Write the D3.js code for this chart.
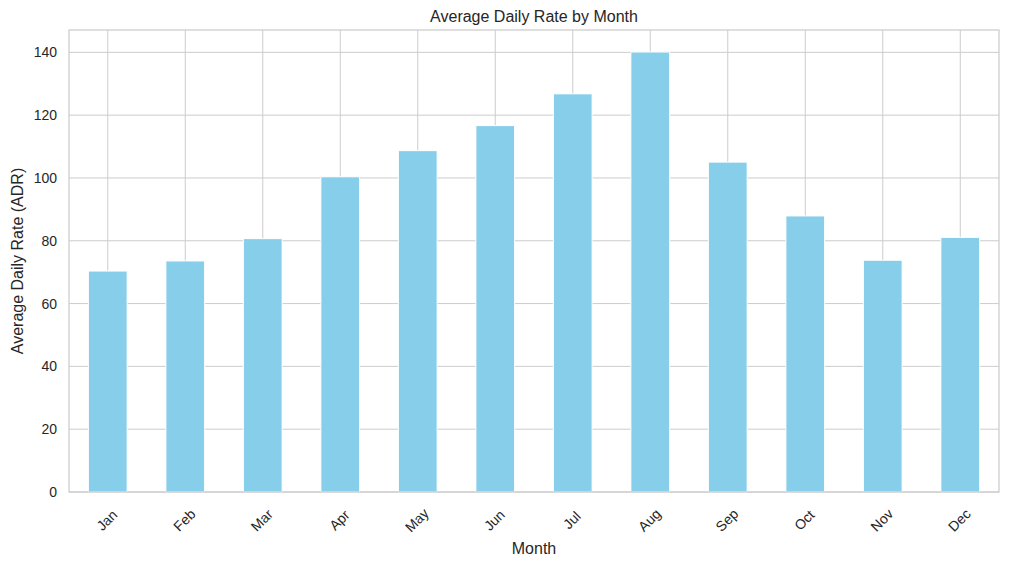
<!DOCTYPE html>
<html><head><meta charset="utf-8">
<script src="https://cdn.jsdelivr.net/npm/d3@7"></script>
<style>body{margin:0;background:#fff}text{font-family:"Liberation Sans",Arial,sans-serif;fill:#262626}</style>
</head><body><svg id="c" width="1009" height="566"></svg>
<script>
const months = ["Jan","Feb","Mar","Apr","May","Jun","Jul","Aug","Sep","Oct","Nov","Dec"];
const adr = [70.36, 73.58, 80.68, 100.38, 108.70, 116.67, 126.79, 140.11, 105.05, 87.91, 73.80, 81.08];
const yTicks = [0, 20, 40, 60, 80, 100, 120, 140];
const title = "Average Daily Rate by Month";
const xLabel = "Month";
const yLabel = "Average Daily Rate (ADR)";

const svg = d3.select("#c");
const L = 69, R = 999, T = 30, B = 492;
const x = d3.scaleBand().domain(months).range([L, R]).paddingInner(0.5).paddingOuter(0.25);
const y = d3.scaleLinear().domain([0, d3.max(adr) * 1.05]).range([B, T]);

const grid = svg.append("g");
grid.selectAll("line.h").data(yTicks).join("line")
  .attr("x1", L).attr("x2", R).attr("y1", d => y(d)).attr("y2", d => y(d))
  .attr("stroke", "#cccccc").attr("stroke-width", 1);
grid.selectAll("line.v").data(months).join("line")
  .attr("y1", T).attr("y2", B).attr("x1", d => x(d) + x.bandwidth() / 2).attr("x2", d => x(d) + x.bandwidth() / 2)
  .attr("stroke", "#cccccc").attr("stroke-width", 1);

svg.append("g").selectAll("rect").data(months).join("rect")
  .attr("x", d => x(d)).attr("width", x.bandwidth())
  .attr("y", (d, i) => y(adr[i])).attr("height", (d, i) => B - y(adr[i]))
  .attr("fill", "#87ceeb").attr("stroke", "#ffffff").attr("stroke-width", 1);

svg.append("rect").attr("x", L).attr("y", T).attr("width", R - L).attr("height", B - T)
  .attr("fill", "none").attr("stroke", "#cccccc").attr("stroke-width", 1.25);

const yAxis = svg.append("g").attr("transform", `translate(${L},0)`)
  .call(d3.axisLeft(y).tickValues(yTicks).tickSize(0).tickPadding(12).tickFormat(d3.format("d")));
yAxis.select(".domain").remove();
yAxis.selectAll("text").attr("font-size", 14).style("font-family", "Liberation Sans, Arial, sans-serif").attr("fill", "#262626");

const xAxis = svg.append("g").attr("transform", `translate(0,${B})`)
  .call(d3.axisBottom(x).tickSize(0).tickPadding(0));
xAxis.select(".domain").remove();
xAxis.selectAll("text")
  .attr("font-size", 14).style("font-family", "Liberation Sans, Arial, sans-serif").attr("fill", "#262626")
  .attr("text-anchor", "middle").attr("dy", null).attr("y", 0)
  .attr("transform", "translate(0,29) rotate(-45)").attr("dominant-baseline", "middle");

svg.append("text").attr("x", (L + R) / 2).attr("y", 22).attr("text-anchor", "middle")
  .attr("font-size", 16).text(title);
svg.append("text").attr("x", (L + R) / 2).attr("y", 554).attr("text-anchor", "middle")
  .attr("font-size", 16).text(xLabel);
svg.append("text").attr("transform", `translate(23,${(T + B) / 2}) rotate(-90)`).attr("text-anchor", "middle")
  .attr("font-size", 16).text(yLabel);
</script></body></html>
